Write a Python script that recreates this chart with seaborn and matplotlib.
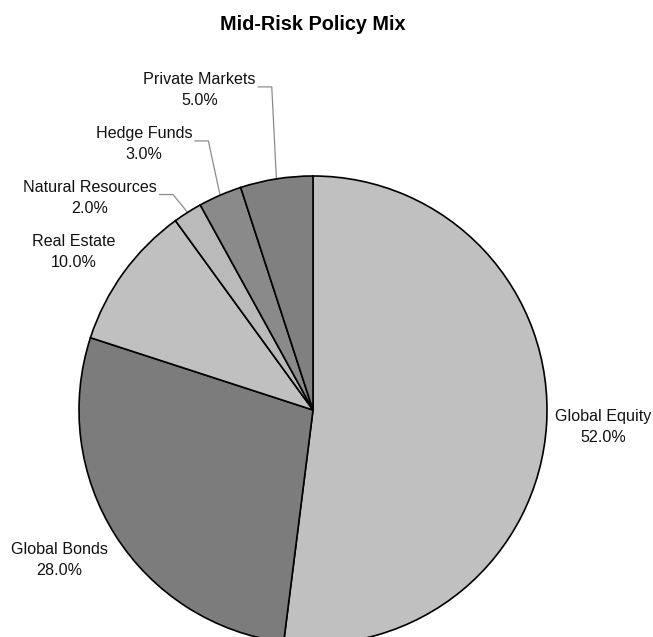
import numpy as np
import matplotlib
matplotlib.use("Agg")
import matplotlib.pyplot as plt
import seaborn as sns

# Policy mix allocation (percent)
categories = ["Global Equity", "Global Bonds", "Real Estate",
              "Natural Resources", "Hedge Funds", "Private Markets"]
weights = [52.0, 28.0, 10.0, 2.0, 3.0, 5.0]
colors = ["#c0c0c0", "#7c7c7c", "#c0c0c0", "#bababa", "#8a8a8a", "#808080"]

# label anchor points, in units of the pie radius
label_pos = [(1.239, -0.071), (-1.085, -0.643), (-1.023, 0.675),
             (-0.953, 0.908), (-0.722, 1.137), (-0.485, 1.368)]
leader = [False, False, False, True, True, True]

sns.set_theme(style="white")
plt.rcParams["font.family"] = ["Liberation Sans", "DejaVu Sans"]
plt.rcParams["text.color"] = "black"

W, H = 653, 637
cx, cy, R = 313, 410, 234  # pie centre and radius in pixels

fig = plt.figure(figsize=(W / 100, H / 100), dpi=100)
ax = fig.add_axes([0, 0, 1, 1])

wedges, _ = ax.pie(weights, colors=colors, startangle=90, counterclock=False,
                   radius=1.0,
                   wedgeprops=dict(edgecolor="black", linewidth=1.2))
ax.set_aspect("auto")
ax.set_xlim(-cx / R, (W - cx) / R)
ax.set_ylim((cy - H) / R, cy / R)
ax.axis("off")

fig.text(cx / W, 1 - 24 / H, "Mid-Risk Policy Mix", ha="center", va="center",
         fontsize=14.3, fontweight="bold", color="black")

fig.canvas.draw()
renderer = fig.canvas.get_renderer()
inv = ax.transData.inverted()

total = sum(weights)
cum = 0.0
for name, w, (lx, ly), lead in zip(categories, weights, label_pos, leader):
    mid = (cum + w / 2) / total * 360.0
    cum += w
    txt = ax.text(lx, ly, f"{name}\n{w:.1f}%", ha="center", va="center",
                  fontsize=11.6, linespacing=1.5, color="#111111")
    if lead:
        bb = txt.get_window_extent(renderer)
        right = inv.transform((bb.x1, bb.y0))[0]
        theta = np.deg2rad(90 - mid)
        ex, ey = np.cos(theta), np.sin(theta)
        x0 = right + 2 / R
        xe = right + 16 / R
        ax.plot([x0, xe, ex], [ly + 3 / R, ly + 3 / R, ey], color="#8c8c8c",
                linewidth=0.9, solid_capstyle="butt", zorder=0)

fig.savefig("out.png", dpi=100)
